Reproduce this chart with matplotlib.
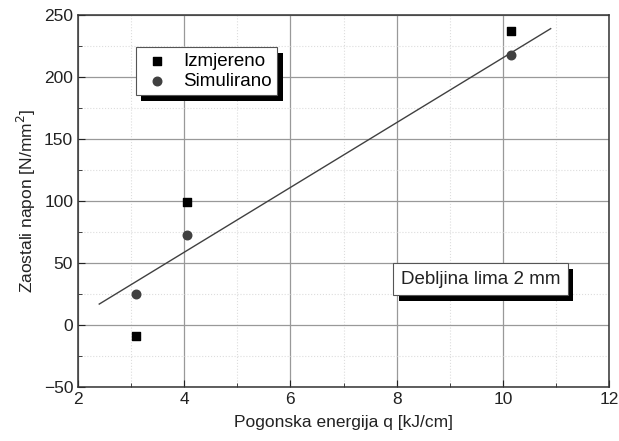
import matplotlib
matplotlib.use("Agg")
import matplotlib.pyplot as plt
import matplotlib.patheffects as pe
from matplotlib.ticker import MultipleLocator

plt.rcParams['font.family'] = ['Liberation Sans', 'DejaVu Sans']

# podaci
q_izm = [3.1, 4.05, 10.15]
napon_izm = [-9, 99, 237]
q_sim = [3.1, 4.05, 10.15]
napon_sim = [25, 73, 218]
q_fit = [2.4, 10.9]
napon_fit = [17, 239]

fig = plt.figure(figsize=(6.19, 4.41), dpi=100)
ax = fig.add_axes([0.126, 0.122, 0.858, 0.844])

ax.plot(q_fit, napon_fit, color='#404040', lw=1.0, zorder=2)
ax.scatter(q_izm, napon_izm, marker='s', s=30, color='black', label='Izmjereno', zorder=3)
ax.scatter(q_sim, napon_sim, marker='o', s=38, color='#404040', label='Simulirano', zorder=3)

ax.set_xlim(2, 12)
ax.set_ylim(-50, 250)
ax.xaxis.set_major_locator(MultipleLocator(2))
ax.xaxis.set_minor_locator(MultipleLocator(1))
ax.yaxis.set_major_locator(MultipleLocator(50))
ax.yaxis.set_minor_locator(MultipleLocator(25))
ax.tick_params(which='both', direction='in', labelsize=12.5, colors='#222222')
ax.tick_params(which='major', length=5)
ax.tick_params(which='minor', length=3)
ax.grid(which='major', color='#999999', lw=0.9)
ax.grid(which='minor', color='#dddddd', lw=0.8, ls=':')
ax.set_axisbelow(True)
for s in ax.spines.values():
    s.set_color('#333333')
    s.set_linewidth(1.1)

ax.set_xlabel('Pogonska energija q [kJ/cm]', fontsize=12.5, color='#222222', labelpad=6)
ax.set_ylabel('Zaostali napon [N/mm$^2$]', fontsize=12.5, color='#222222', labelpad=4)

leg = ax.legend(loc='upper left', bbox_to_anchor=(0.109, 0.914), borderaxespad=0,
                fontsize=13.5, fancybox=False, framealpha=1, edgecolor='#555555',
                handletextpad=0.6, handlelength=1.6, borderpad=0.3, labelspacing=0.15,
                markerscale=1.0)
leg.get_frame().set_linewidth(0.8)
leg.get_frame().set_path_effects([pe.withSimplePatchShadow(offset=(4, -4), shadow_rgbFace='black', alpha=1)])

t = ax.text(0.608, 0.29, 'Debljina lima 2 mm', transform=ax.transAxes, fontsize=13.5,
            va='center', ha='left', color='#222222',
            bbox=dict(boxstyle='square,pad=0.4', fc='white', ec='#555555', lw=0.8))
t.get_bbox_patch().set_path_effects([pe.withSimplePatchShadow(offset=(4, -4), shadow_rgbFace='black', alpha=1)])

fig.savefig('out.png', dpi=100)
